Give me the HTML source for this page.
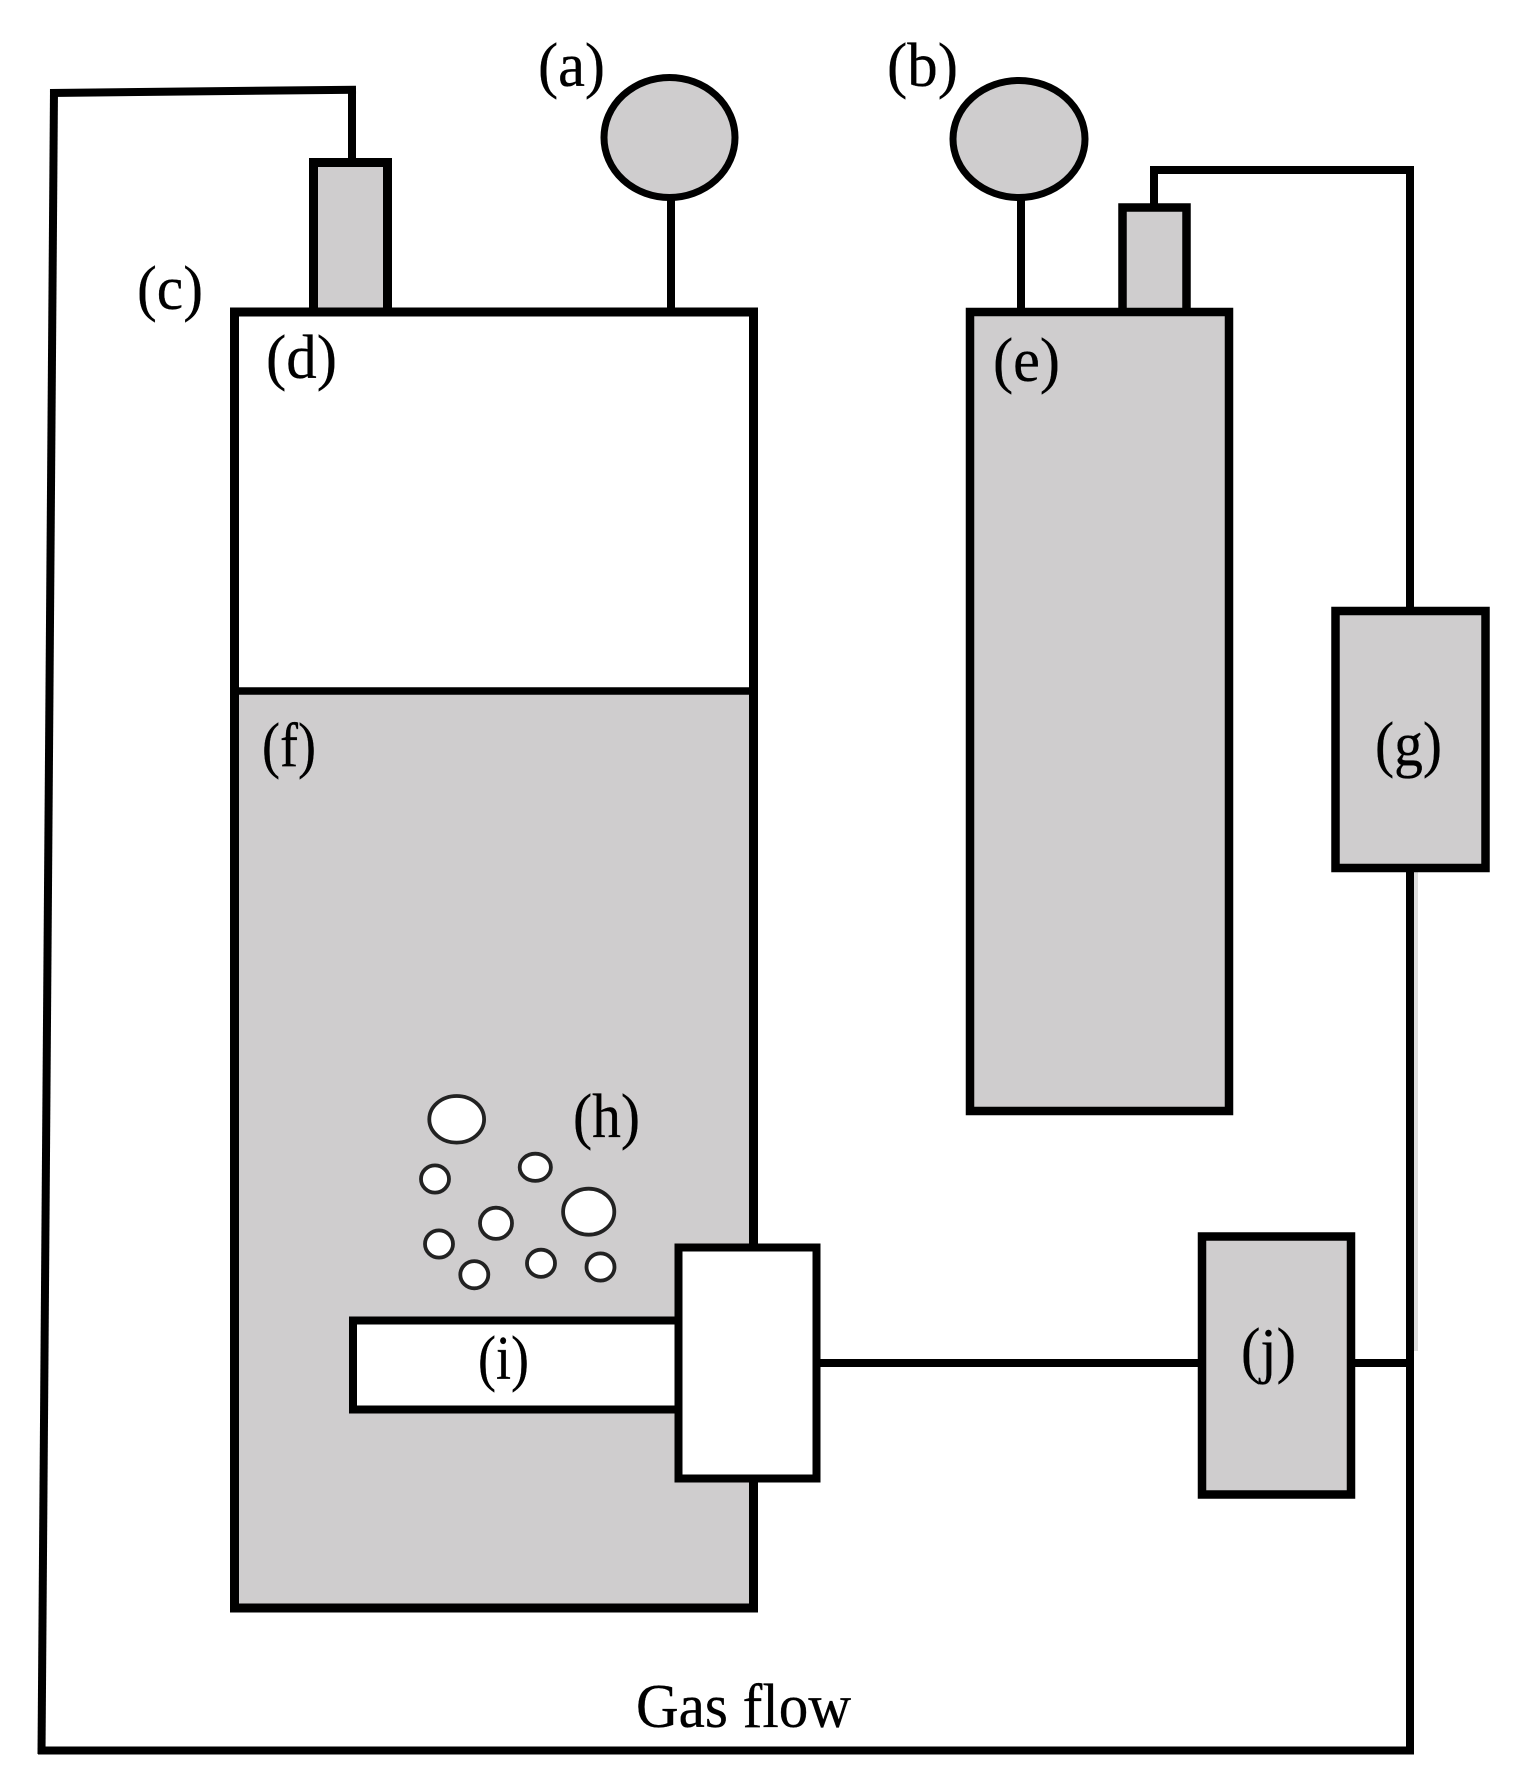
<!DOCTYPE html>
<html lang="en">
<head>
<meta charset="utf-8">
<title>Gas flow diagram</title>
<style>
html,body{margin:0;padding:0;background:#fff;}
svg{display:block;}
text{font-family:"Liberation Serif",serif;font-size:62px;fill:#000;stroke:#000;stroke-width:.3px;}
</style>
</head>
<body>
<svg xmlns="http://www.w3.org/2000/svg" width="1536" height="1785" viewBox="0 0 1536 1785">
<rect width="1536" height="1785" fill="#fff"/>

<!-- gas flow loop -->
<g fill="none" stroke="#000" stroke-width="8">
  <line x1="54" y1="89" x2="41.5" y2="1754"/>
  <line x1="50" y1="93" x2="356" y2="89.7"/>
  <line x1="352" y1="88" x2="352" y2="162"/>
  <line x1="38" y1="1750.5" x2="1414" y2="1750.5"/>
  <line x1="1410" y1="170" x2="1410" y2="1754"/>
  <line x1="1154" y1="170" x2="1414" y2="170"/>
  <line x1="1154" y1="166" x2="1154" y2="208"/>
  <line x1="671" y1="195" x2="671" y2="312"/>
  <line x1="1021" y1="195" x2="1021" y2="312"/>
  <line x1="815" y1="1363" x2="1205" y2="1363"/>
  <line x1="1350" y1="1363" x2="1410" y2="1363"/>
</g>
<rect x="1414" y="872" width="4" height="479" fill="#ddd"/>

<!-- gauges -->
<ellipse cx="669.5" cy="137.5" rx="65.5" ry="60" fill="#cfcdce" stroke="#000" stroke-width="7"/>
<ellipse cx="1019" cy="139" rx="66" ry="58.5" fill="#cfcdce" stroke="#000" stroke-width="7"/>

<!-- sensors -->
<rect x="313.5" y="162.5" width="74" height="150" fill="#cfcdce" stroke="#000" stroke-width="9"/>
<rect x="1122.5" y="207.5" width="64" height="105" fill="#cfcdce" stroke="#000" stroke-width="8.5"/>

<!-- main tank -->
<rect x="234.5" y="312" width="519" height="380" fill="#fff"/>
<rect x="234.5" y="692" width="519" height="916" fill="#cfcdce"/>
<rect x="234.5" y="312" width="519" height="1296" fill="none" stroke="#000" stroke-width="9"/>
<line x1="234" y1="691" x2="754" y2="691" stroke="#000" stroke-width="7.5"/>

<!-- second cylinder -->
<rect x="970" y="312" width="259" height="799" fill="#cfcdce" stroke="#000" stroke-width="8.5"/>

<!-- bubbles -->
<g fill="#fff" stroke="#222" stroke-width="3.8">
  <ellipse cx="456.7" cy="1119.3" rx="27.4" ry="23.3"/>
  <ellipse cx="435" cy="1179" rx="14" ry="13.6"/>
  <ellipse cx="535.3" cy="1167.3" rx="15.6" ry="13.6"/>
  <ellipse cx="588.7" cy="1211.7" rx="25.6" ry="23"/>
  <ellipse cx="496" cy="1223.3" rx="16" ry="15.6"/>
  <ellipse cx="439" cy="1244" rx="14" ry="13.6"/>
  <ellipse cx="474.3" cy="1274.7" rx="14" ry="13.6"/>
  <ellipse cx="541" cy="1263.3" rx="14" ry="13.6"/>
  <ellipse cx="600.5" cy="1267" rx="14" ry="13.6"/>
</g>

<!-- heater tube and block -->
<rect x="353" y="1320.5" width="326" height="89" fill="#fff" stroke="#000" stroke-width="8"/>
<rect x="678.5" y="1247.5" width="138" height="231" fill="#fff" stroke="#000" stroke-width="8"/>

<!-- side boxes -->
<rect x="1335.5" y="611" width="150" height="257" fill="#cfcdce" stroke="#000" stroke-width="8.5"/>
<rect x="1202" y="1236.5" width="149" height="258" fill="#cfcdce" stroke="#000" stroke-width="8.5"/>

<!-- labels -->
<text x="538" y="86" textLength="67" lengthAdjust="spacingAndGlyphs">(a)</text>
<text x="887" y="86" textLength="71" lengthAdjust="spacingAndGlyphs">(b)</text>
<text x="137" y="309" textLength="66" lengthAdjust="spacingAndGlyphs">(c)</text>
<text x="266" y="378" textLength="71" lengthAdjust="spacingAndGlyphs">(d)</text>
<text x="993" y="381" textLength="67" lengthAdjust="spacingAndGlyphs">(e)</text>
<text x="262" y="766" textLength="54" lengthAdjust="spacingAndGlyphs">(f)</text>
<text x="1375" y="765" textLength="67" lengthAdjust="spacingAndGlyphs">(g)</text>
<text x="573" y="1137" textLength="67" lengthAdjust="spacingAndGlyphs">(h)</text>
<text x="478" y="1379" textLength="51" lengthAdjust="spacingAndGlyphs">(i)</text>
<text x="1241" y="1371" textLength="55" lengthAdjust="spacingAndGlyphs">(j)</text>
<text x="636" y="1727" textLength="215" lengthAdjust="spacingAndGlyphs">Gas flow</text>
</svg>
</body>
</html>
